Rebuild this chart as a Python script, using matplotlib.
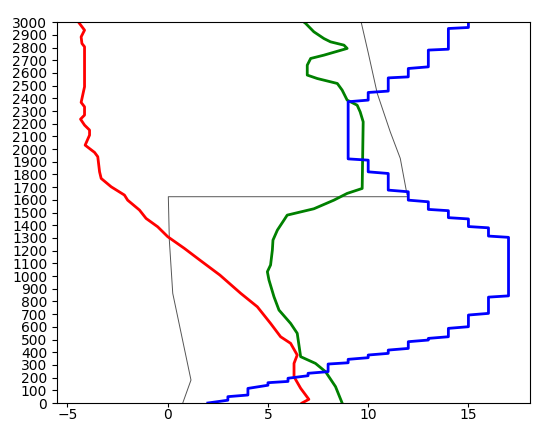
import numpy as np
import matplotlib
matplotlib.use('Agg')
import matplotlib.pyplot as plt

# heights (m) and values
red_x = [6.7, 7.04, 6.63, 6.3, 6.3, 6.46, 6.13, 5.63, 5.13, 4.47, 3.64, 2.6, 1.6, 0.83, 0.0,
         -0.5, -1.08, -1.41, -2.0, -2.16, -2.82, -3.32, -3.4, -3.49, -3.65, -4.12, -3.9, -3.9,
         -4.15, -4.35, -4.15, -4.15, -4.32, -4.15, -4.15, -4.28, -4.32, -4.15, -4.45]
red_y = [0, 29, 116, 207, 312, 378, 470, 522, 627, 758, 864, 1008, 1126, 1218, 1310,
         1388, 1454, 1520, 1598, 1638, 1703, 1769, 1821, 1940, 1974, 2031, 2110, 2150,
         2189, 2236, 2268, 2333, 2368, 2491, 2806, 2832, 2884, 2937, 3000]

green_x = [8.7, 8.37, 7.87, 7.37, 6.63, 6.46, 6.13, 5.55, 5.3, 5.05, 4.97, 5.13, 5.22, 5.25,
           5.47, 5.8, 5.96, 7.29, 8.29, 8.95, 9.7, 9.75, 9.6, 9.45, 8.95, 8.7, 8.46, 7.46,
           6.96, 6.96, 7.13, 7.79, 8.95, 8.79, 8.12, 7.79, 7.29, 6.88, 6.8]
green_y = [0, 129, 247, 312, 365, 549, 627, 732, 837, 969, 1034, 1087, 1205, 1283,
           1362, 1441, 1480, 1530, 1598, 1651, 1690, 2215, 2293, 2346, 2386, 2465, 2517, 2556,
           2583, 2661, 2714, 2740, 2793, 2819, 2845, 2871, 2924, 2990, 3000]

blue_x = [2, 3, 3, 4, 4, 5, 5, 6, 6, 7, 7, 8, 8, 9, 9, 10, 10, 11, 11, 12, 12, 13, 13, 14, 14,
          15, 15, 16, 16, 17, 17, 16, 16, 15, 15, 14, 14, 13, 13, 12, 12, 11, 11, 10, 10,
          9, 9, 10, 10, 11, 11, 12, 12, 13, 13, 14, 14, 15, 15]
blue_y = [0, 22, 50, 63, 115, 140, 160, 170, 195, 215, 234, 247, 307, 317, 344, 357, 378, 391,
          417, 430, 483, 496, 509, 522, 588, 601, 693, 706, 834, 844, 1305, 1315, 1380, 1390,
          1450, 1460, 1515, 1525, 1585, 1598, 1664, 1677, 1808, 1821, 1913, 1923, 2373, 2386,
          2446, 2457, 2561, 2569, 2635, 2648, 2780, 2787, 2950, 2958, 3000]

gray_x = [0.75, 1.16, 0.25, 0.08, 0.03, 12.0, 11.94, 11.6, 11.1, 10.45, 10.0, 9.65]
gray_y = [0, 181, 864, 1283, 1625, 1625, 1640, 1927, 2136, 2440, 2760, 3000]

fig = plt.figure(figsize=(5.41, 4.22), dpi=100)
ax = fig.add_axes([0.1054, 0.045, 0.8743, 0.9025])

ax.plot(gray_x, gray_y, color='#555555', linewidth=0.7)
ax.plot(red_x, red_y, color='red', linewidth=2)
ax.plot(green_x, green_y, color='green', linewidth=2)
ax.plot(blue_x, blue_y, color='blue', linewidth=2)

ax.set_ylim(0, 3000)
ax.set_yticks(np.arange(0, 3001, 100))
ax.tick_params(labelsize=10)
# x labels sit right at the bottom edge, keep them inside the picture
ax.tick_params(axis='x', length=3, pad=0.5)

fig.savefig('out.png', dpi=100)
